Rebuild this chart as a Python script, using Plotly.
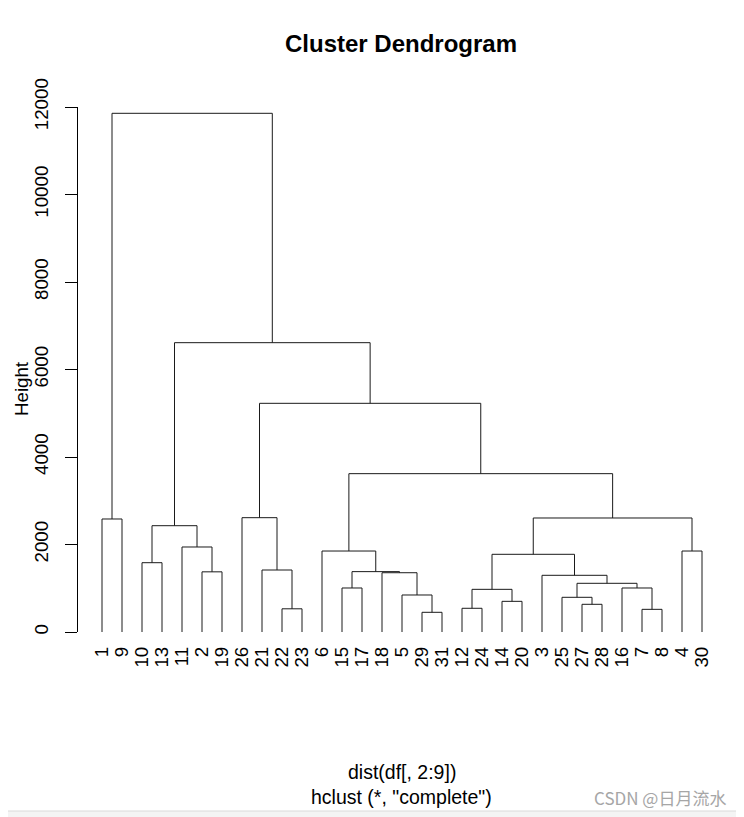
import plotly.graph_objects as go

# ---- data ----
leaf_labels = ["1", "9", "10", "13", "11", "2", "19", "26", "21", "22", "23",
               "6", "15", "17", "18", "5", "29", "31", "12", "24", "14", "20",
               "3", "25", "27", "28", "16", "7", "8", "4", "30"]

# R-style merge matrix: negative = leaf label, positive = earlier merge step (1-based)
merge_left = [-29, -7, -22, -12, -27, -14, -25, -5, 4, -15,
              -16, 7, -3, -18, 10, -2, -21, -10, 9, -4,
              -6, -11, 18, -1, 19, -26, 21, 26, 23, 24]
merge_right = [-31, -8, -23, -24, -28, -20, 5, 1, 6, -17,
               2, 11, 12, 8, 14, -19, 3, -13, 13, -30,
               15, 16, 22, -9, 20, 17, 25, 27, 28, 29]
merge_height = [450, 518, 530, 542, 633, 701, 793, 846, 975, 1006,
                1006, 1113, 1296, 1355, 1380, 1375, 1417, 1584, 1776, 1851,
                1851, 1943, 2430, 2583, 2606, 2613, 3619, 5227, 6613, 11856]

y_ticks = [0, 2000, 4000, 6000, 8000, 10000, 12000]

# ---- build dendrogram segments ----
leaf_pos = {int(lab): i for i, lab in enumerate(leaf_labels)}
node_x, node_h = [], []
xs, ys = [], []


def child(c):
    if c < 0:
        return leaf_pos[-c], 0
    return node_x[c - 1], node_h[c - 1]


for a, b, h in zip(merge_left, merge_right, merge_height):
    xa, ha = child(a)
    xb, hb = child(b)
    xs += [xa, xa, xb, xb, None]
    ys += [ha, h, h, hb, None]
    node_x.append((xa + xb) / 2)
    node_h.append(h)

FONT = "Liberation Sans, Arial, sans-serif"

fig = go.Figure()
fig.add_trace(go.Scatter(x=xs, y=ys, mode="lines",
                         line=dict(color="#1a1a1a", width=1),
                         hoverinfo="skip", showlegend=False))

# page has an 8px body margin: the figure is laid out 8px up/left
FIG_W, FIG_H = 736, 809
L, R, T, B = 70, 14, 99, 185
W = FIG_W - L - R
H = FIG_H - T - B
x0 = -1.2
x1 = x0 + W / 20.0


def px_x(p):  # p = page pixel in the reference
    return (p - 8 - L) / W


def px_y(p):
    return (FIG_H - B - (p - 8)) / H


fig.update_layout(
    width=FIG_W, height=FIG_H,
    margin=dict(l=L, r=R, t=T, b=B, pad=0),
    paper_bgcolor="white", plot_bgcolor="white",
    font=dict(family=FONT, size=18.7, color="black"),
    showlegend=False,
    xaxis=dict(range=[x0, x1], tickmode="array",
               tickvals=list(range(len(leaf_labels))), ticktext=leaf_labels,
               tickangle=-90, showline=False, showgrid=False, zeroline=False,
               ticks="", ticklabelstandoff=10,
               tickfont=dict(family=FONT, size=18.7, color="black")),
    yaxis=dict(range=[0, 12000], tickmode="array", tickvals=y_ticks,
               ticktext=[str(v) for v in y_ticks],
               tickangle=-90, showline=True, linecolor="black", linewidth=1,
               ticks="outside", ticklen=12, tickcolor="black", tickwidth=1,
               showgrid=False, zeroline=False, ticklabelstandoff=10,
               tickfont=dict(family=FONT, size=18.7, color="black")),
    annotations=[
        dict(text="<b>Cluster Dendrogram</b>", xref="paper", yref="paper",
             x=px_x(401), y=px_y(44), xanchor="center", yanchor="middle",
             showarrow=False, font=dict(family=FONT, size=24, color="black")),
        dict(text="dist(df[, 2:9])", xref="paper", yref="paper",
             x=px_x(402), y=px_y(772), xanchor="center", yanchor="middle",
             showarrow=False, font=dict(family=FONT, size=19.5, color="black")),
        dict(text="hclust (*, \"complete\")", xref="paper", yref="paper",
             x=px_x(401), y=px_y(797), xanchor="center", yanchor="middle",
             showarrow=False, font=dict(family=FONT, size=19.5, color="black")),
        dict(text="Height", xref="paper", yref="paper",
             x=px_x(21), y=px_y(389), xanchor="center", yanchor="middle",
             textangle=-90, showarrow=False,
             font=dict(family=FONT, size=18.7, color="black")),
        dict(text="CSDN @日月流水", xref="paper", yref="paper",
             x=px_x(660), y=px_y(797), xanchor="center", yanchor="middle",
             showarrow=False,
             font=dict(family="Noto Sans CJK SC, Noto Sans, sans-serif", size=17, color="#a6a6a6")),
    ],
    shapes=[
        dict(type="rect", xref="paper", yref="paper",
             x0=px_x(0), x1=px_x(760), y0=px_y(811), y1=px_y(830),
             fillcolor="#f4f4f4", line=dict(width=0), layer="below"),
        dict(type="line", xref="paper", yref="paper",
             x0=px_x(0), x1=px_x(760), y0=px_y(811), y1=px_y(811),
             line=dict(color="#dadada", width=1)),
    ],
)

fig.write_html("out.html")
